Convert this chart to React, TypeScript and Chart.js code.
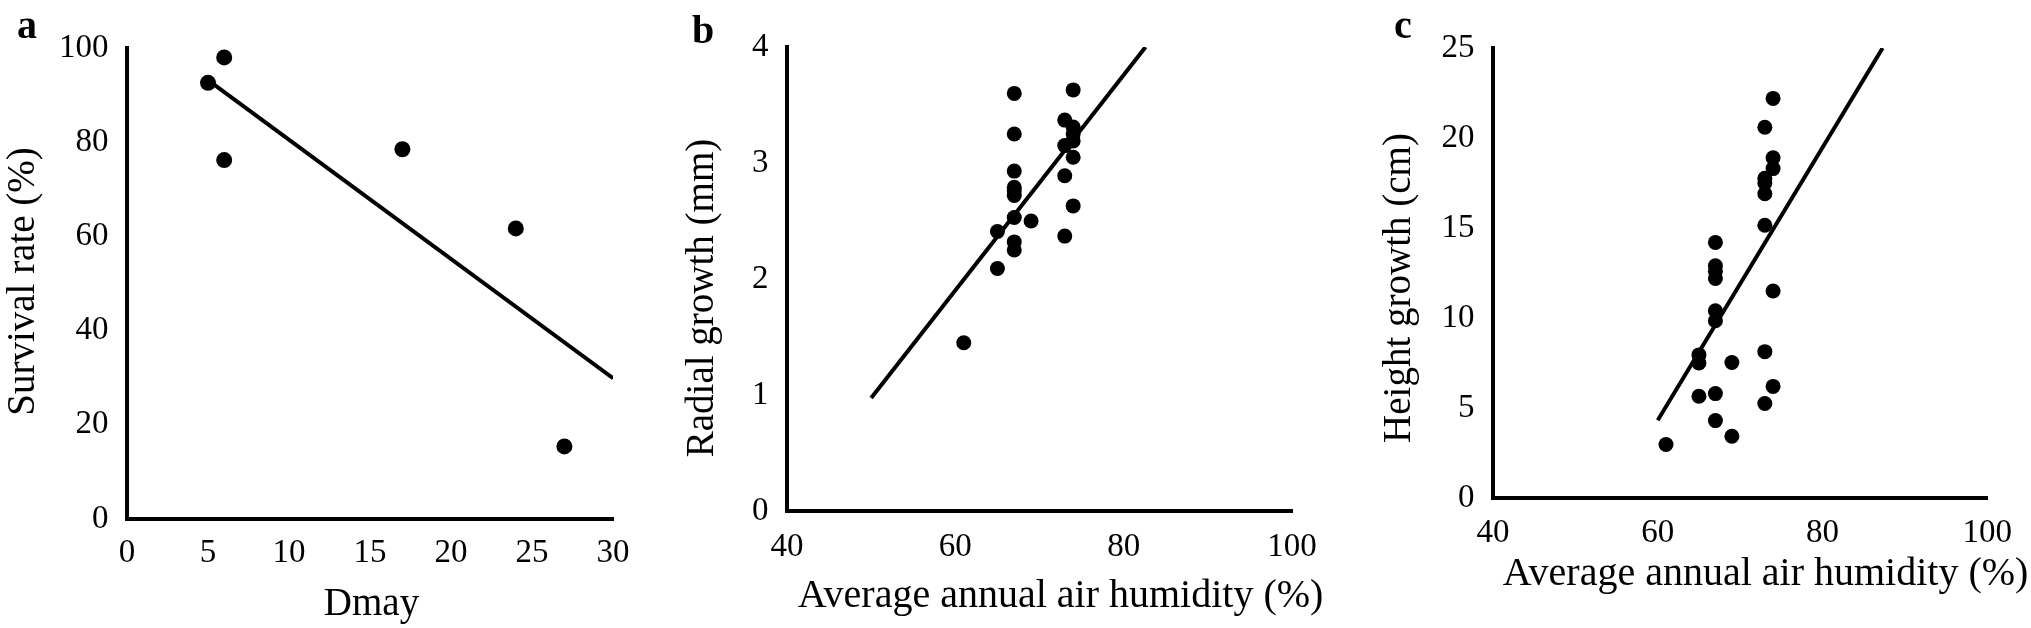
import React, { useEffect, useRef } from 'react';
import { Chart, registerables } from 'chart.js';

Chart.register(...registerables);

// ---------- Panel a: survival rate vs Dmay ----------
const dmay = [5, 6, 6, 17, 24, 27];
const survivalRate = [92.6, 98, 76.2, 78.5, 61.7, 15.4];
const trendAX = [5, 30];
const trendAY = [93.2, 29.9];
const xTicksA = [0, 5, 10, 15, 20, 25, 30];
const yTicksA = [0, 20, 40, 60, 80, 100];

// ---------- Panel b: radial growth vs humidity ----------
const humidityB = [61, 65, 65, 67, 67, 67, 67, 67, 67, 67, 67, 67, 69, 73, 73, 73, 73, 74, 74, 74, 74, 74, 74];
const radialGrowth = [1.45, 2.09, 2.41, 3.6, 3.25, 2.93, 2.79, 2.76, 2.72, 2.53, 2.32, 2.25, 2.5, 3.37, 3.15, 2.89, 2.37, 3.63, 3.31, 3.25, 3.19, 3.05, 2.63];
const trendBX = [50, 82.6];
const trendBY = [0.975, 4];
const xTicksB = [40, 60, 80, 100];
const yTicksB = [0, 1, 2, 3, 4];

// ---------- Panel c: height growth vs humidity ----------
const humidityC = [61, 65, 65, 65, 67, 67, 67, 67, 67, 67, 67, 67, 69, 69, 73, 73, 73, 73, 73, 73, 73, 74, 74, 74, 74, 74];
const heightGrowth = [2.97, 7.95, 7.5, 5.65, 14.2, 12.9, 12.6, 12.2, 10.4, 9.85, 5.8, 4.3, 7.53, 3.43, 20.6, 17.76, 17.5, 16.9, 15.15, 8.13, 5.25, 22.2, 18.9, 18.3, 11.5, 6.2];
const trendCX = [60, 87.3];
const trendCY = [4.32, 25];
const xTicksC = [40, 60, 80, 100];
const yTicksC = [0, 5, 10, 15, 20, 25];

const FONT = '"Liberation Serif", "Times New Roman", Times, serif';
const H = 628;

type TextItem = { text: string; x: number; y: number; size: number; bold?: boolean; rotate?: boolean; align: CanvasTextAlign };

type PanelSpec = {
  id: string;
  left: number;
  width: number;
  area: { l: number; r: number; t: number; b: number };
  xs: number[];
  ys: number[];
  trendX: number[];
  trendY: number[];
  xTicks: number[];
  yTicks: number[];
  radius: number;
  xTickPad: number;
  texts: TextItem[];
};

const panels: PanelSpec[] = [
  {
    id: 'a', left: 0, width: 680,
    area: { l: 127, r: 613, t: 48, b: 519 },
    xs: dmay, ys: survivalRate, trendX: trendAX, trendY: trendAY,
    xTicks: xTicksA, yTicks: yTicksA, radius: 8, xTickPad: 18,
    texts: [
      { text: 'a', x: 17, y: 38, size: 40, bold: true, align: 'left' },
      { text: 'Dmay', x: 371.5, y: 615, size: 39, align: 'center' },
      { text: 'Survival rate (%)', x: 34, y: 281.5, size: 39, rotate: true, align: 'center' },
    ],
  },
  {
    id: 'b', left: 680, width: 680,
    area: { l: 787, r: 1292, t: 47, b: 511 },
    xs: humidityB, ys: radialGrowth, trendX: trendBX, trendY: trendBY,
    xTicks: xTicksB, yTicks: yTicksB, radius: 7.5, xTickPad: 19.5,
    texts: [
      { text: 'b', x: 692, y: 43, size: 40, bold: true, align: 'left' },
      { text: 'Average annual air humidity (%)', x: 1060.5, y: 607, size: 40, align: 'center' },
      { text: 'Radial growth (mm)', x: 713, y: 298, size: 39, rotate: true, align: 'center' },
    ],
  },
  {
    id: 'c', left: 1360, width: 671,
    area: { l: 1493, r: 1996, t: 48, b: 498 },
    xs: humidityC, ys: heightGrowth, trendX: trendCX, trendY: trendCY,
    xTicks: xTicksC, yTicks: yTicksC, radius: 7.5, xTickPad: 19,
    texts: [
      { text: 'c', x: 1394, y: 38, size: 40, bold: true, align: 'left' },
      { text: 'Average annual air humidity (%)', x: 1765.5, y: 585, size: 40, align: 'center' },
      { text: 'Height growth (cm)', x: 1410, y: 288, size: 39, rotate: true, align: 'center' },
    ],
  },
];

function buildConfig(p: PanelSpec): any {
  const points = p.xs.map((x, i) => ({ x, y: p.ys[i] }));
  const trend = p.trendX.map((x, i) => ({ x, y: p.trendY[i] }));
  const textPlugin = {
    id: 'panelText',
    afterDraw(chart: any) {
      const ctx = chart.ctx as CanvasRenderingContext2D;
      for (const t of p.texts) {
        ctx.save();
        ctx.font = `${t.bold ? 'bold ' : ''}${t.size}px ${FONT}`;
        ctx.fillStyle = '#000';
        ctx.textAlign = t.align;
        ctx.textBaseline = 'alphabetic';
        ctx.translate(t.x - p.left, t.y);
        if (t.rotate) ctx.rotate(-Math.PI / 2);
        ctx.fillText(t.text, 0, 0);
        ctx.restore();
      }
    },
  };
  const tickFont = { family: FONT, size: 33, lineHeight: 1 };
  return {
    type: 'scatter',
    data: {
      datasets: [
        {
          data: points,
          backgroundColor: '#000',
          borderColor: '#000',
          borderWidth: 0,
          pointRadius: p.radius,
          pointHoverRadius: p.radius,
          clip: false,
        },
        {
          data: trend,
          showLine: true,
          borderColor: '#000',
          backgroundColor: '#000',
          borderWidth: 4,
          pointRadius: 0,
          pointHoverRadius: 0,
          fill: false,
        },
      ],
    },
    options: {
      responsive: false,
      animation: false,
      devicePixelRatio: 1,
      events: [],
      layout: { padding: { left: 0, top: p.area.t, right: p.left + p.width - p.area.r, bottom: 0 } },
      plugins: { legend: { display: false }, tooltip: { enabled: false }, title: { display: false } },
      scales: {
        x: {
          type: 'linear',
          position: 'bottom',
          min: p.xTicks[0],
          max: p.xTicks[p.xTicks.length - 1],
          afterBuildTicks: (s: any) => { s.ticks = p.xTicks.map((v) => ({ value: v })); },
          afterFit: (s: any) => { s.height = H - p.area.b; },
          grid: { display: false, drawTicks: false },
          border: { display: true, color: '#000', width: 4 },
          ticks: { font: tickFont, color: '#000', padding: p.xTickPad, maxRotation: 0, minRotation: 0, autoSkip: false },
        },
        y: {
          type: 'linear',
          position: 'left',
          min: p.yTicks[0],
          max: p.yTicks[p.yTicks.length - 1],
          afterBuildTicks: (s: any) => { s.ticks = p.yTicks.map((v) => ({ value: v })); },
          afterFit: (s: any) => { s.width = p.area.l - p.left; },
          grid: { display: false, drawTicks: false },
          border: { display: true, color: '#000', width: 4 },
          ticks: { font: tickFont, color: '#000', padding: 18.5, autoSkip: false },
        },
      },
    },
    plugins: [textPlugin],
  };
}

function Panel({ spec }: { spec: PanelSpec }) {
  const ref = useRef<HTMLCanvasElement>(null);
  useEffect(() => {
    if (!ref.current) return;
    const chart = new Chart(ref.current, buildConfig(spec));
    return () => chart.destroy();
  }, [spec]);
  return (
    <canvas
      ref={ref}
      width={spec.width}
      height={H}
      style={{ position: 'absolute', left: spec.left, top: 0, width: spec.width, height: H }}
    />
  );
}

export default function App() {
  return (
    <div style={{ position: 'absolute', left: 0, top: 0, width: 2031, height: H, background: '#fff', overflow: 'hidden' }}>
      {panels.map((p) => (
        <Panel key={p.id} spec={p} />
      ))}
    </div>
  );
}
